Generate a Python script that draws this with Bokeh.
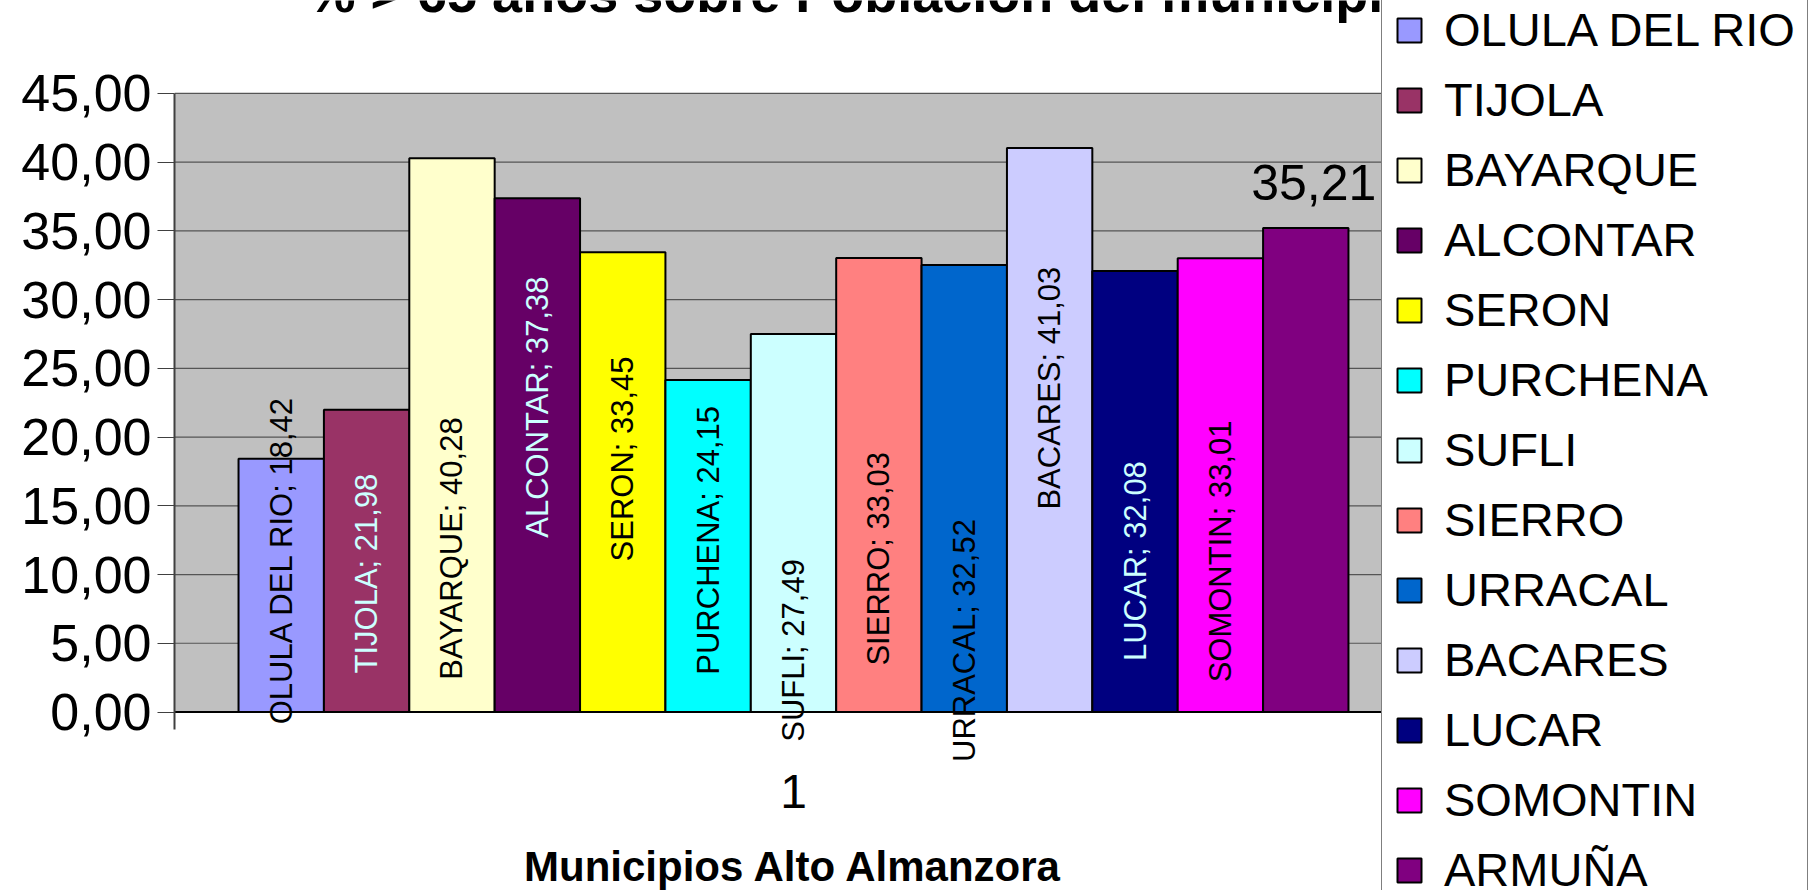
from math import pi
from bokeh.plotting import figure
from bokeh.models import (Range1d, Legend, LegendItem, Label, LabelSet, BoxAnnotation,
                          FixedTicker, ColumnDataSource)
from bokeh.core.properties import value
from bokeh.embed import file_html
from bokeh.resources import INLINE

# ---------------- data ----------------
categoria = ["1"]
municipios = ["OLULA DEL RIO", "TIJOLA", "BAYARQUE", "ALCONTAR", "SERON", "PURCHENA",
              "SUFLI", "SIERRO", "URRACAL", "BACARES", "LUCAR", "SOMONTIN", "ARMUÑA"]
porcentajes = [18.42, 21.98, 40.28, 37.38, 33.45, 24.15, 27.49, 33.03, 32.52, 41.03,
               32.08, 33.01, 35.21]
y_ticks = [0, 5, 10, 15, 20, 25, 30, 35, 40, 45]
y_tick_labels = ["0,00", "5,00", "10,00", "15,00", "20,00", "25,00", "30,00", "35,00",
                 "40,00", "45,00"]
titulo = "% > 65 años sobre Población del municipio"
titulo_eje_x = "Municipios Alto Almanzora"

# ---------------- styles ----------------
colores = ["#9999FF", "#993366", "#FFFFCC", "#660066", "#FFFF00", "#00FFFF", "#CCFFFF",
           "#FF8080", "#0066CC", "#CCCCFF", "#000080", "#FF00FF", "#800080"]
color_etiqueta = ["black", "#CCFFFF", "black", "#CCFFFF", "black", "black", "black",
                  "black", "black", "black", "#CCFFFF", "black", "black"]
# vertical anchor (centre) of each data label, in axis units, as placed in the picture
ancla_etiqueta = [11.08, 10.07, 11.89, 22.18, 18.41, 12.49, 4.48, 11.15, 5.20, 23.56,
                  10.98, 11.68, 38.5]

FONT = "Liberation Sans"
W, H = 1816, 890
LEFT = 174                 # y axis position in px
PX_PER_UNIT = 618.6 / 45   # vertical scale
ZERO_Y = 711.5             # px position of value 0 from top
CAT_PX = 1238              # px width of the category band


def v(px_from_top):
    return (ZERO_Y - px_from_top) / PX_PER_UNIT


y_top = v(0)
y_bot = v(H)
x_end = (W - LEFT) / CAT_PX

n = len(municipios)
bw = 1.0 / (n + 1.5)  # Excel gap width 150 %
xs = [0.75 * bw + (i + 0.5) * bw for i in range(n)]

p = figure(width=W, height=H, x_range=Range1d(0, x_end), y_range=Range1d(y_bot, y_top),
           output_backend="svg", toolbar_location=None, title=None,
           min_border_left=LEFT, min_border_right=0, min_border_top=0, min_border_bottom=0)
p.background_fill_color = "white"
p.border_fill_color = "white"
p.outline_line_color = None
p.xaxis.visible = False
p.xgrid.visible = False
p.ygrid.visible = False

# plot area (grey) from 0 to 45 over the category band
p.add_layout(BoxAnnotation(left=0, right=1, bottom=y_ticks[0], top=y_ticks[-1],
                           fill_color="#C0C0C0", fill_alpha=1.0, line_color=None,
                           level="underlay"))

# y axis
p.yaxis.ticker = FixedTicker(ticks=y_ticks)
p.yaxis.bounds = (-1.25, y_ticks[-1])
p.yaxis.major_label_overrides = {t: l for t, l in zip(y_ticks, y_tick_labels)}
p.yaxis.major_label_text_font = FONT
p.yaxis.major_label_text_font_size = "52px"
p.yaxis.major_label_text_color = "black"
p.yaxis.major_tick_out = 17
p.yaxis.major_tick_in = 0
p.yaxis.major_tick_line_color = "#404040"
p.yaxis.minor_tick_line_color = None
p.yaxis.axis_line_color = "#404040"
p.yaxis.axis_line_width = 2
p.yaxis.major_label_standoff = 6

# gridlines
grid = ColumnDataSource(dict(y=y_ticks[1:], x0=[0] * (len(y_ticks) - 1),
                             x1=[1] * (len(y_ticks) - 1)))
p.segment(x0="x0", x1="x1", y0="y", y1="y", source=grid, line_color="#555555",
          line_width=1.2)

# bars
src = ColumnDataSource(dict(x=xs, top=porcentajes, color=colores, name=municipios))
r = p.vbar(x="x", top="top", width=bw, source=src, fill_color="color",
           line_color="black", line_width=2)

# category axis line (value 0)
p.segment(x0=[0], x1=[1], y0=[y_ticks[0]], y1=[y_ticks[0]], line_color="black",
          line_width=2)

# data labels
etiquetas = []
for i, (name, val) in enumerate(zip(municipios, porcentajes)):
    t = f"{val:.2f}".replace(".", ",")
    etiquetas.append(t if i == n - 1 else f"{name}; {t}")
lab = ColumnDataSource(dict(
    x=xs, y=ancla_etiqueta, text=etiquetas, color=color_etiqueta,
    angle=[pi / 2] * (n - 1) + [0.0],
    size=["31px"] * (n - 1) + ["50px"],
    dx=[0] * (n - 1) + [8]))
p.add_layout(LabelSet(x="x", y="y", text="text", source=lab, angle="angle",
                      text_align="center", text_baseline="middle", x_offset="dx",
                      text_font=value(FONT), text_font_size="size", text_color="color"))

# category label and axis title
p.add_layout(Label(x=0.5, y=v(790.5), text=categoria[0], text_font=FONT,
                   text_font_size="48px", text_align="center",
                   text_baseline="middle", text_color="black"))
p.add_layout(Label(x=0.5, y=v(866), text=titulo_eje_x, text_font=FONT,
                   text_font_style="bold", text_font_size="42px", text_align="center",
                   text_baseline="middle", text_color="black"))

# chart title (cut at the top edge, as in the picture)
p.add_layout(Label(x=(307 - LEFT) / CAT_PX, y=v(-8), text=titulo,
                   text_font=FONT, text_font_style="bold", text_font_size="54px",
                   text_align="left", text_baseline="middle", text_color="black"))

# legend
items = [LegendItem(label=name, renderers=[r], index=i) for i, name in enumerate(municipios)]
legend = Legend(items=items, location=(1381 - LEFT, -20), orientation="vertical",
                label_text_font=FONT, label_text_font_size="47px", label_text_color="black",
                glyph_width=30, glyph_height=30, label_height=30, spacing=15, padding=12,
                label_standoff=20, border_line_color="black", border_line_width=1,
                background_fill_color="white", background_fill_alpha=1.0, margin=0)
p.add_layout(legend, "center")

open("out.html", "w").write(file_html(p, INLINE))
